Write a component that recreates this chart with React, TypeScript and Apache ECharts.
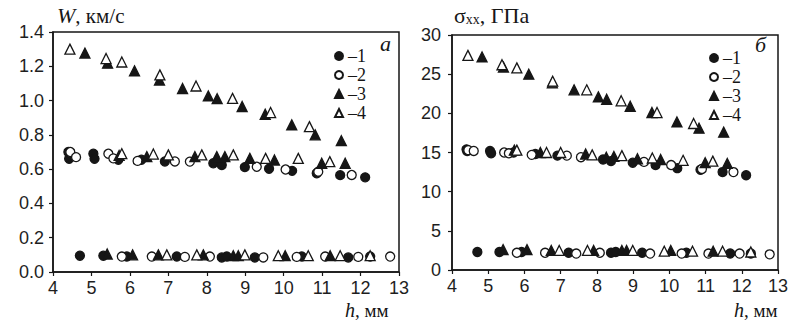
import React, { useEffect, useRef } from "react";
import * as echarts from "echarts";

// h, mm (shared by both panels) and values: W, km/s (panel a), sigma_xx, GPa (panel б)
const h1 = [4.40, 4.42, 5.05, 5.08, 5.70, 6.30, 6.91, 8.17, 8.39, 8.99, 9.62, 10.22, 10.86, 11.47, 12.12, 4.70, 5.31, 5.92, 7.22, 8.39, 8.52, 9.25, 10.47, 11.68, 12.25];
const W1 = [0.70, 0.66, 0.69, 0.66, 0.655, 0.655, 0.645, 0.634, 0.624, 0.612, 0.602, 0.59, 0.576, 0.565, 0.552, 0.095, 0.095, 0.09, 0.09, 0.085, 0.09, 0.085, 0.09, 0.085, 0.09];
const S1 = [15.4, 15.2, 15.2, 14.9, 15.0, 14.8, 14.6, 14.1, 13.9, 13.7, 13.4, 13.0, 12.8, 12.5, 12.1, 2.3, 2.3, 2.3, 2.2, 2.2, 2.3, 2.2, 2.2, 2.1, 2.1];

const h2 = [4.45, 4.60, 5.44, 5.57, 6.20, 7.17, 7.56, 9.30, 10.05, 10.90, 11.77, 5.79, 6.57, 7.43, 8.08, 9.47, 10.34, 11.08, 11.94, 12.77];
const W2 = [0.70, 0.67, 0.69, 0.663, 0.648, 0.645, 0.644, 0.614, 0.598, 0.585, 0.566, 0.09, 0.09, 0.088, 0.09, 0.085, 0.088, 0.09, 0.088, 0.09];
const S2 = [15.3, 15.2, 15.0, 14.9, 14.7, 14.6, 14.4, 13.8, 13.4, 12.9, 12.5, 2.2, 2.2, 2.1, 2.2, 2.1, 2.1, 2.1, 2.1, 2.0];

const h3 = [4.83, 5.42, 6.12, 6.77, 7.37, 8.04, 8.27, 8.92, 9.52, 10.21, 10.82, 11.50, 5.72, 6.44, 7.69, 8.26, 8.47, 9.12, 9.76, 10.99, 11.60, 5.41, 6.07, 6.74, 7.91, 8.69, 8.82, 10.04, 11.21];
const W3 = [1.277, 1.218, 1.173, 1.12, 1.07, 1.027, 1.011, 0.965, 0.92, 0.858, 0.80, 0.766, 0.68, 0.673, 0.673, 0.673, 0.673, 0.663, 0.653, 0.634, 0.634, 0.105, 0.10, 0.10, 0.10, 0.095, 0.095, 0.095, 0.095];
const S3 = [27.2, 25.9, 25.0, 23.9, 23.0, 22.1, 21.8, 20.9, 20.1, 18.9, 18.1, 17.6, 15.3, 15.0, 14.8, 14.4, 14.5, 14.2, 14.1, 13.7, 13.6, 2.6, 2.6, 2.5, 2.5, 2.5, 2.5, 2.5, 2.4];

const h4 = [4.44, 5.38, 5.79, 6.78, 7.72, 8.67, 9.66, 10.67, 5.79, 6.61, 7.00, 7.87, 8.69, 9.53, 10.38, 11.20, 6.96, 7.74, 8.99, 9.86, 10.64, 11.47, 12.25];
const W4 = [1.30, 1.245, 1.225, 1.15, 1.085, 1.013, 0.93, 0.848, 0.69, 0.688, 0.683, 0.683, 0.683, 0.663, 0.663, 0.644, 0.10, 0.10, 0.10, 0.095, 0.095, 0.095, 0.095];
const S4 = [27.4, 26.2, 25.8, 24.1, 23.0, 21.6, 20.1, 18.7, 15.3, 15.0, 15.0, 14.7, 14.6, 14.3, 14.0, 13.9, 2.5, 2.5, 2.5, 2.4, 2.4, 2.4, 2.3];

const seriesNames = ["1", "2", "3", "4"];
const xTicks = { min: 4, max: 13, interval: 1 };
const yLeft = { min: 0, max: 1.4, interval: 0.2 };
const yRight = { min: 0, max: 30, interval: 5 };

const INK = "#161616";
const SERIF = "'Liberation Serif', 'DejaVu Serif', serif";
const SANS = "'Liberation Sans', Arial, sans-serif";

const pairs = (xs: number[], ys: number[]) => xs.map((x, i) => [x, ys[i]]);

const styles = [
  { symbol: "circle", fill: INK },
  { symbol: "circle", fill: "#ffffff" },
  { symbol: "triangle", fill: INK },
  { symbol: "triangle", fill: "#ffffff" },
];

export default function App() {
  const ref = useRef<HTMLDivElement>(null);
  useEffect(() => {
    document.body.style.margin = "0";
    const chart = echarts.init(ref.current!, null, { renderer: "svg" });
    const hs = [h1, h2, h3, h4];
    const ws = [W1, W2, W3, W4];
    const ss = [S1, S2, S3, S4];

    const mkSeries = (panel: number) =>
      seriesNames.map((name, i) => ({
        type: "scatter",
        name,
        xAxisIndex: panel,
        yAxisIndex: panel,
        symbol: styles[i].symbol,
        symbolSize: styles[i].symbol === "circle" ? 9 : 10,
        itemStyle: {
          color: styles[i].fill,
          borderColor: INK,
          borderWidth: 1.3,
          opacity: 1,
        },
        data: pairs(hs[i], panel === 0 ? ws[i] : ss[i]),
      }));

    const axisCommon = {
      axisLine: { show: true, onZero: false, lineStyle: { color: INK, width: 1.5 } },
      axisTick: { show: true, length: 4, lineStyle: { color: INK, width: 1.2 } },
      splitLine: { show: false },
      axisLabel: { color: "#1e1e1e", fontFamily: SANS, fontSize: 18 },
    };

    const legendCommon = {
      orient: "vertical",
      itemWidth: 8,
      itemHeight: 8,
      itemGap: 1,
      formatter: "–{name}",
      textStyle: { fontFamily: SERIF, fontSize: 18, color: INK, lineHeight: 16 },
      selectedMode: false,
      data: seriesNames,
    };

    const titleText = (left: number, top: number, text: string, size = 20) => ({
      left,
      top,
      text,
      padding: 0,
      textStyle: {
        fontFamily: SERIF,
        fontWeight: "normal",
        fontSize: size,
        color: INK,
        rich: {
          i: { fontFamily: SERIF, fontStyle: "italic", fontSize: size + 1, color: INK, verticalAlign: "bottom" },
          n: { fontFamily: SERIF, fontSize: size, color: INK, verticalAlign: "bottom" },
          sub: { fontFamily: SERIF, fontSize: 14, color: INK, verticalAlign: "bottom", padding: [7, 0, 0, 0] },
        },
      },
    });

    chart.setOption({
      animation: false,
      backgroundColor: "#ffffff",
      title: [
        titleText(57, 4, "{i|W}{n|, км/с}", 21),
        titleText(454, 4, "{n|σ}{sub|xx}{n|, ГПа}", 22),
        titleText(345, 300, "{i|h}{n|, мм}", 19),
        titleText(734, 300, "{i|h}{n|, мм}", 19),
        titleText(380, 32, "{i|а}", 21),
        titleText(755, 33, "{i|б}", 21),
      ],
      legend: [
        { ...legendCommon, left: 329, top: 42 },
        { ...legendCommon, left: 704, top: 44 },
      ],
      grid: [
        { left: 53, top: 32, width: 346, height: 240, show: true, borderColor: INK, borderWidth: 1.5, backgroundColor: "transparent" },
        { left: 452, top: 35, width: 326, height: 235, show: true, borderColor: INK, borderWidth: 1.5, backgroundColor: "transparent" },
      ],
      xAxis: [0, 1].map((g) => ({
        type: "value",
        gridIndex: g,
        ...xTicks,
        ...axisCommon,
        axisLabel: { ...axisCommon.axisLabel, margin: 7 },
      })),
      yAxis: [
        {
          type: "value",
          gridIndex: 0,
          ...yLeft,
          ...axisCommon,
          axisLabel: { ...axisCommon.axisLabel, margin: 9, formatter: (v: number) => v.toFixed(1) },
        },
        {
          type: "value",
          gridIndex: 1,
          ...yRight,
          ...axisCommon,
          axisLabel: { ...axisCommon.axisLabel, margin: 11 },
        },
      ],
      series: [...mkSeries(0), ...mkSeries(1)],
    });
    return () => chart.dispose();
  }, []);
  return <div ref={ref} style={{ position: "absolute", left: 0, top: 0, width: 794, height: 320 }} />;
}
